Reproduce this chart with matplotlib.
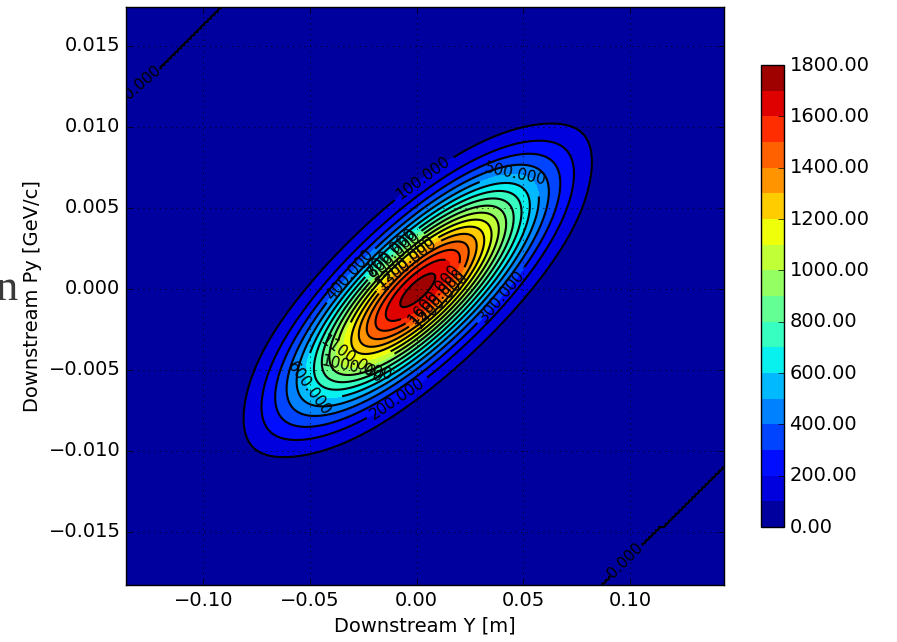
import numpy as np
import matplotlib
matplotlib.use("Agg")
import matplotlib.pyplot as plt

plt.style.use("classic")

# Beam phase space at the downstream station
peak_count = 1745.0          # height of the distribution [entries]
centre_y = 0.0005            # [m]
centre_py = -0.0001          # [GeV/c]
unit_y = 0.0339              # scale of Y [m]
unit_py = 0.00428            # scale of Py [GeV/c]
sigma_major = 1.42           # spread along the correlation axis (scaled units)
sigma_minor = 0.49           # spread across it
edge_y = 2.56                # soft edges of the beam in scaled Y and Py
edge_py = 2.56
empty_beyond = 4.79          # bins further than this from the beam axis are empty

y_range = [-0.1362, 0.1440]
py_range = [-0.0183, 0.0174]
n_bins_y = 360
n_bins_py = 350

levels = np.arange(0, 1801, 100)
colorbar_ticks = np.arange(0, 1801, 200)


def px_to_data(px, py):
    """Position in the picture -> data coordinates (for label placement)"""
    return ((px - 416.7) / 2134.0, (289.0 - py) / 16200.0)


# where each contour level gets its label (picture pixels)
label_spots = {
    0: [(140, 80), (612, 548)],
    100: [(425, 180)],
    200: [(405, 410)],
    300: [(497, 292)],
    400: [(350, 275)],
    500: [(515, 175)],
    600: [(318, 383)],
    700: [(385, 245)],
    800: [(385, 245)],
    900: [(385, 245)],
    1000: [(355, 352)],
    1100: [(355, 352)],
    1200: [(395, 250)],
    1300: [(395, 250)],
    1400: [(445, 305)],
    1500: [(445, 305)],
    1600: [(445, 305)],
    1700: [],
}

# Grid of bin centres
y_vals = np.linspace(y_range[0], y_range[1], n_bins_y)
py_vals = np.linspace(py_range[0], py_range[1], n_bins_py)
Y, PY = np.meshgrid(y_vals, py_vals)

u = (Y - centre_y) / unit_y
v = (PY - centre_py) / unit_py
along = (u + v) / np.sqrt(2)
across = (u - v) / np.sqrt(2)
counts = peak_count * np.exp(-0.5 * ((along / sigma_major) ** 2 + (across / sigma_minor) ** 2))
counts *= np.exp(-0.5 * np.abs(u / edge_y) ** 10) * np.exp(-0.5 * np.abs(v / edge_py) ** 10)

# empty bins: decided on the coarse binning, hence the staircase edge
coarse = np.abs(across)[::2, ::2]
coarse = np.repeat(np.repeat(coarse, 2, axis=0), 2, axis=1)[:n_bins_py, :n_bins_y]
counts[coarse > empty_beyond] = 0.0

fig = plt.figure(figsize=(8.97, 6.42), dpi=100, facecolor="white")
ax = fig.add_axes([0.1405, 0.0888, 0.6666, 0.9003])
cax = fig.add_axes([0.8484, 0.1791, 0.0256, 0.7196])

cf = ax.contourf(Y, PY, counts, levels=levels, cmap="jet")
# one line set per level so each label lands on its own contour
for lev, spots in label_spots.items():
    cs = ax.contour(Y, PY, counts, levels=[lev], colors="k", linewidths=1.5)
    if spots:
        ax.clabel(cs, fmt="%.3f", fontsize=11, inline=True,
                  manual=[px_to_data(*p) for p in spots])

ax.set_xlim(y_range)
ax.set_ylim(py_range)
ax.set_xticks([-0.10, -0.05, 0.00, 0.05, 0.10])
ax.set_yticks([-0.015, -0.010, -0.005, 0.000, 0.005, 0.010, 0.015])
ax.tick_params(labelsize=14)
ax.grid(True, color="k", linestyle=":")
ax.set_xlabel("Downstream Y [m]", fontsize=14)
ax.set_ylabel("Downstream Py [GeV/c]", fontsize=14)

cb = fig.colorbar(cf, cax=cax, ticks=colorbar_ticks, format="%.2f")
cb.ax.tick_params(labelsize=14)

# stray glyph from the surrounding page
fig.text(18 / 897, 1 - 300 / 642, "n", family="Liberation Serif", fontsize=32,
         color="#3a3a3a", ha="right", va="baseline")

fig.savefig("out.png", dpi=100, facecolor="white")
